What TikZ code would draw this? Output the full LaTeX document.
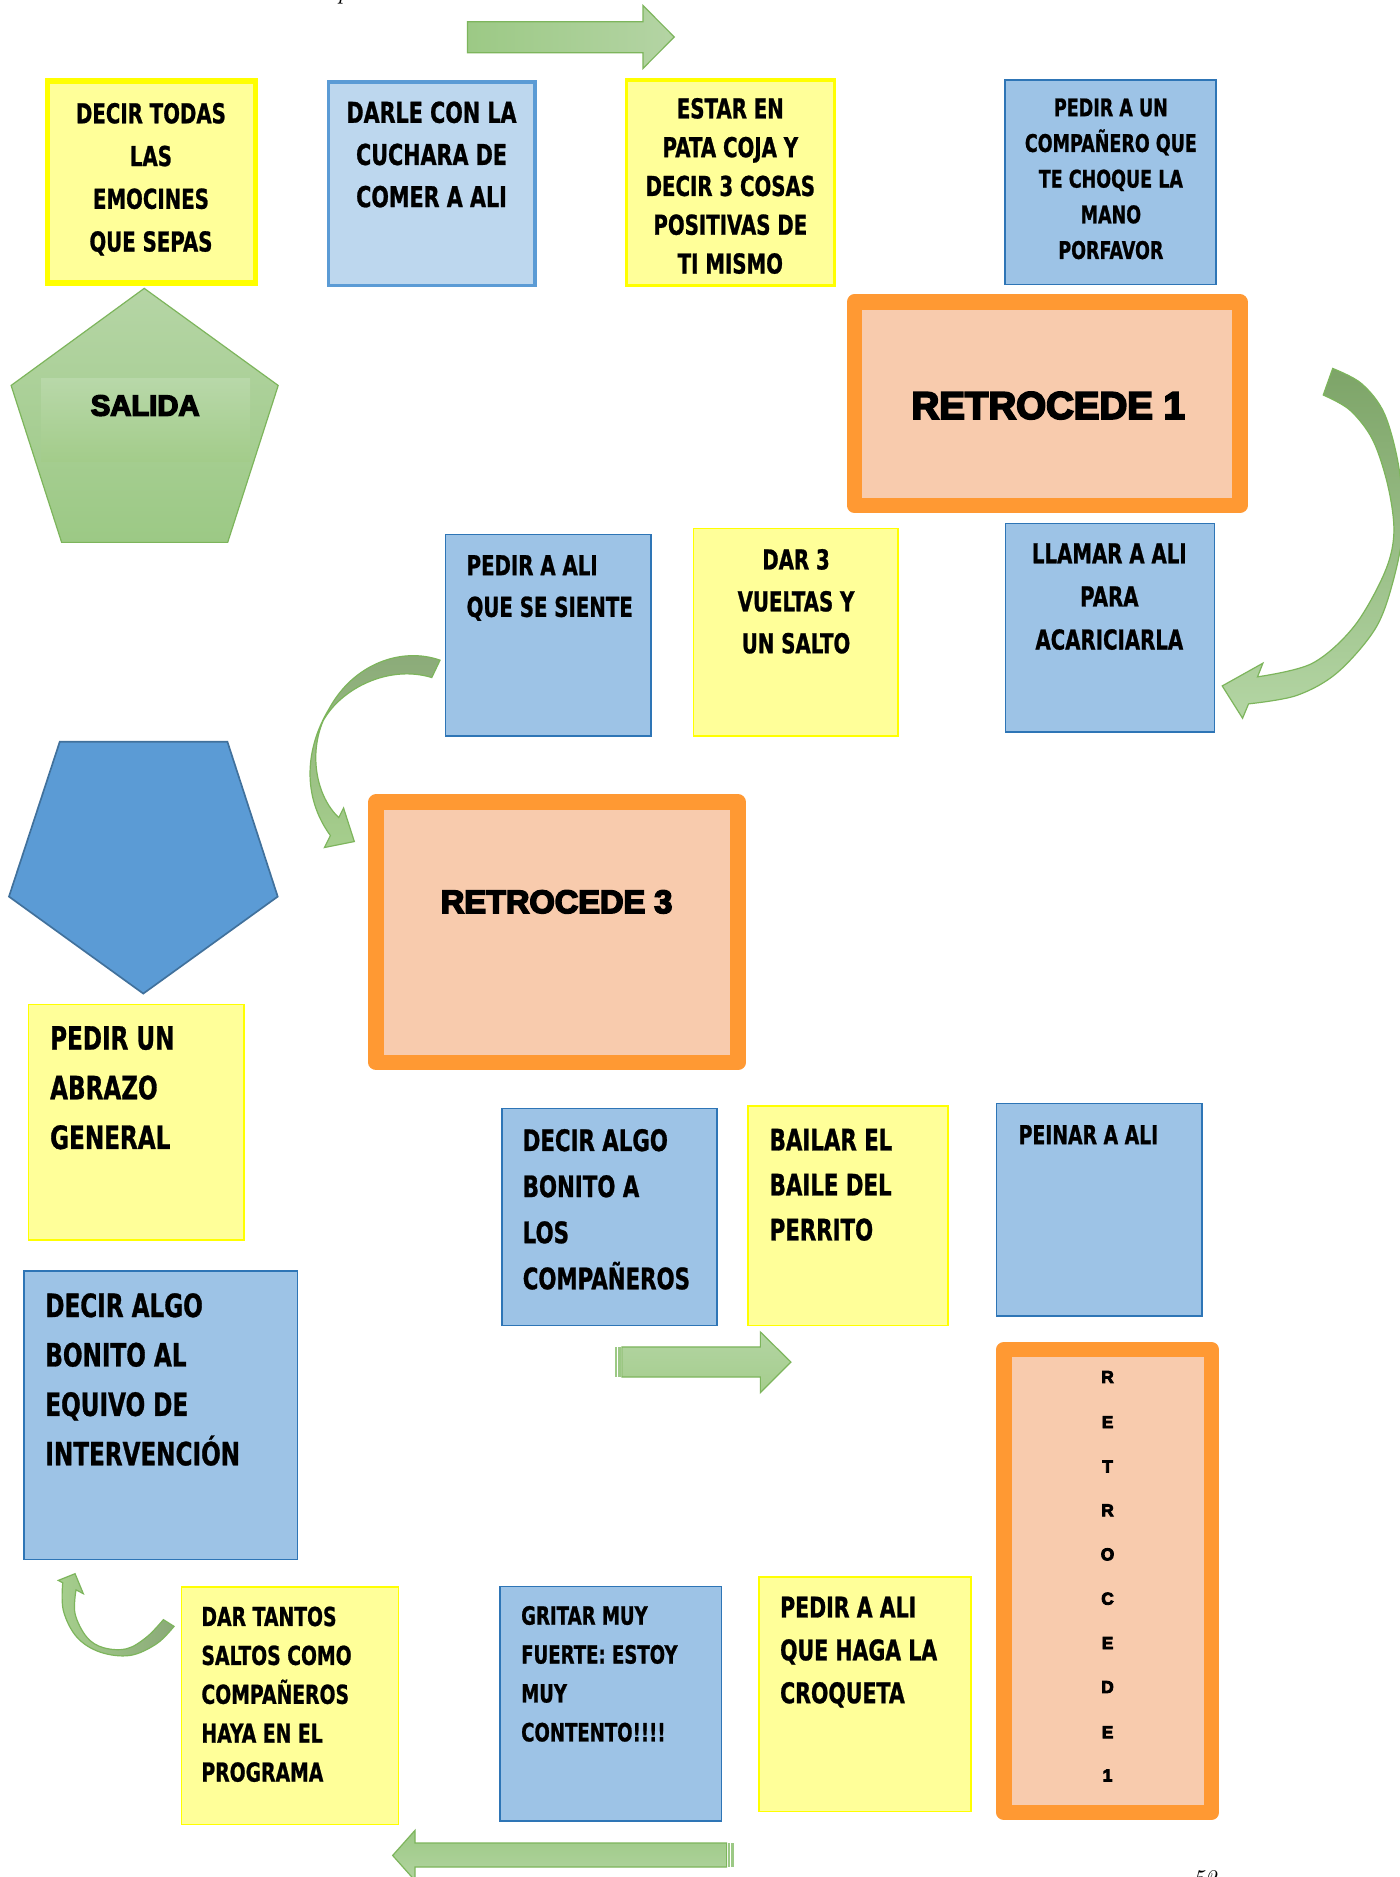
\documentclass[tikz,border=0pt]{standalone}
\usepackage{fontspec}
\newfontfamily\comic[FakeStretch=0.72, BoldFeatures={FakeBold=0.9}]{DejaVu Sans}
\newfontfamily\heavy[BoldFeatures={FakeBold=5}]{Liberation Sans}
\newcommand\cfont[1]{\comic\bfseries\fontsize{#1}{#1}\selectfont}
\newcommand\hfont[1]{\heavy\bfseries\fontsize{#1}{#1}\selectfont}
\newcommand\cenlines[2]{\vtop{\baselineskip=#1\relax\lineskiplimit=-100pt\lineskip=0pt\halign{\hfil##\hfil\cr#2\crcr}}}
\newcommand\leftlines[2]{\vtop{\baselineskip=#1\relax\lineskiplimit=-100pt\lineskip=0pt\halign{##\hfil\cr#2\crcr}}}
\definecolor{yfill}{HTML}{FFFF99}
\definecolor{ydraw}{HTML}{FFFF00}
\definecolor{bfill}{HTML}{9DC3E6}
\definecolor{bdraw}{HTML}{2E75B6}
\definecolor{bfillL}{HTML}{BDD7EE}
\definecolor{bdrawL}{HTML}{5B9BD5}
\definecolor{ofill}{HTML}{F8CBAD}
\definecolor{odraw}{HTML}{FF9933}
\definecolor{pblue}{HTML}{5B9BD5}
\definecolor{pblueE}{HTML}{41719C}
\definecolor{gedge}{HTML}{7DB55C}
\definecolor{gA}{HTML}{9CC985}
\definecolor{gB}{HTML}{B4D4A4}
\definecolor{gTop}{HTML}{B5D5A5}
\definecolor{gRectT}{HTML}{B8D8A9}
\definecolor{gRectB}{HTML}{A3CC8A}
\definecolor{gDark}{HTML}{7DA468}
\definecolor{gGray}{HTML}{8AA978}
\definecolor{gLight}{HTML}{A6CF8D}
\definecolor{gPale}{HTML}{B4D6A4}
\definecolor{gMidT}{HTML}{B3D5A3}
\definecolor{gMidB}{HTML}{A5CD8D}
\definecolor{gBotB}{HTML}{B2D4A0}
\begin{document}
\begin{tikzpicture}[x=0.5pt,y=-0.5pt,
  ybox/.style={fill=yfill, draw=ydraw, line width=0.6pt},
  bbox/.style={fill=bfill, draw=bdraw, line width=0.6pt},
  obox/.style={fill=ofill, draw=odraw, line width=6.5pt, line join=round},
  txt/.style={inner sep=0pt, text=black},
  garrow/.style={draw=gedge, line width=0.5pt}]
\useasboundingbox (0,0) rectangle (1169,1568);
\fill[white] (0,0) rectangle (1169,1568);

% cropped page texts (cut by the page edge in the reference too)
\node[txt, anchor=south, font=\fontsize{10}{10}\selectfont\itshape] (ptop) at (287,3.5) {p};
\node[txt, anchor=north, font=\fontsize{10}{10}\selectfont\itshape] (pg) at (1006,1562) {52};

% top arrow
\shadedraw[garrow, left color=gA, right color=gB]
  (390.6,18.1) -- (537.2,18.1) -- (537.2,4.7) -- (563.3,30.9) -- (537.2,57.1) -- (537.2,44) -- (390.6,44) -- cycle;

% row 1 boxes
\draw[fill=yfill, draw=ydraw, line width=2.25pt] (39.9,67.7) rectangle (213.3,236.5);
\node[txt, anchor=base] (tA) at (126.1,103) {\cfont{11.45}\cenlines{17.85pt}{DECIR TODAS\cr LAS\cr EMOCINES\cr QUE SEPAS}};

\draw[fill=bfillL, draw=bdrawL, line width=1.5pt] (274.5,68.3) rectangle (446.9,238.5);
\node[txt, anchor=base] (tB) at (360.5,102.6) {\cfont{12}\cenlines{17.6pt}{DARLE CON LA\cr CUCHARA DE\cr COMER A ALI}};

\draw[fill=yfill, draw=ydraw, line width=1.3pt] (523.5,66.8) rectangle (697.4,238.7);
\node[txt, anchor=base] (tC) at (610.1,98.9) {\cfont{11.45}\cenlines{16.2pt}{ESTAR EN\cr PATA COJA Y\cr DECIR 3 COSAS\cr POSITIVAS DE\cr TI MISMO}};

\draw[bbox] (839.7,66.8) rectangle (1015.7,237.6);
\node[txt, anchor=base] (tD) at (928,97.1) {\cfont{10.15}\cenlines{14.9pt}{PEDIR A UN\cr COMPAÑERO QUE\cr TE CHOQUE LA\cr MANO\cr PORFAVOR}};

% green pentagon SALIDA
\shadedraw[garrow, top color=gTop, bottom color=gA]
  (120.5,240.9) -- (232.4,322) -- (190.2,453.1) -- (51.5,453.1) -- (9.3,322) -- cycle;
\shade[top color=gRectT, bottom color=gRectB]
  (34.3,315.9) rectangle (209,385.8);
\node[txt, font=\hfont{12.2}] (sal) at (121.3,338.8) {SALIDA};

% RETROCEDE 1
\draw[obox] (713.8,252.4) rectangle (1035.8,422.2);
\node[txt, font=\hfont{16.06}] (r1) at (875.7,338.8) {RETROCEDE 1};

% big right curved arrow
\shadedraw[garrow, top color=gDark, bottom color=gPale]
  (1113.3,307.8) -- plot[smooth, tension=0.55] coordinates {(1113.3,307.8) (1137.2,320.3) (1156.4,345.4) (1168.5,390) (1172,440) (1164,484.6) (1149,525) (1117,562) (1083.1,581) (1043,588)}
  -- (1038,600) -- (1021,573) -- (1055,554) -- (1050.5,565.4)
  -- plot[smooth, tension=0.55] coordinates {(1050.5,565.4) (1095.9,554.3) (1130.9,523.6) (1156.4,479) (1164.4,445.6) (1159.6,406.6) (1146.8,367.6) (1127.7,342.6) (1105.4,330)}
  -- cycle;

% row 2 boxes
\draw[bbox] (372.1,446.5) rectangle (543.7,615);
\node[txt, anchor=base west] (tE) at (389.4,480.5) {\cfont{11.45}\leftlines{17.4pt}{PEDIR A ALI\cr QUE SE SIENTE}};

\draw[ybox] (579.3,441.5) rectangle (750,615);
\node[txt, anchor=base] (tF) at (665,475.7) {\cfont{11.45}\cenlines{17.5pt}{DAR 3\cr VUELTAS Y\cr UN SALTO}};

\draw[bbox] (839.8,437.3) rectangle (1014.4,611.4);
\node[txt, anchor=base] (tG) at (926.7,470.6) {\cfont{11.45}\cenlines{18pt}{LLAMAR A ALI\cr PARA\cr ACARICIARLA}};

% middle-left curved arrow
\shadedraw[garrow, top color=gGray, bottom color=gLight]
  (367.6,551.5) .. controls (335,540) and (295,555) .. (275,592)
  .. controls (255,625) and (252,665) .. (276,698) -- (271,708) -- (296,703) -- (287,675) -- (283,683)
  .. controls (264,665) and (258,630) .. (270,602)
  .. controls (285,575) and (325,555) .. (360.7,566) -- cycle;

% blue pentagon
\draw[fill=pblue, draw=pblueE, line width=0.7pt]
  (49.9,619.7) -- (190,619.7) -- (232,749) -- (119.7,830) -- (7.5,749) -- cycle;

% RETROCEDE 3
\draw[obox] (314.3,670.1) rectangle (616.6,887.5);
\node[txt, font=\hfont{13.6}] (r3) at (465,753.4) {RETROCEDE 3};

% left column and middle row
\draw[ybox] (23.7,838.9) rectangle (203.7,1036);
\node[txt, anchor=base west] (tH) at (41.5,876.8) {\cfont{13.4}\leftlines{20.75pt}{PEDIR UN\cr ABRAZO\cr GENERAL}};

\draw[bbox] (419.2,926.1) rectangle (598.9,1107.1);
\node[txt, anchor=base west] (tI) at (436.3,961.5) {\cfont{12.35}\leftlines{19.25pt}{DECIR ALGO\cr BONITO A\cr LOS\cr COMPAÑEROS}};

\draw[ybox] (624.9,923.9) rectangle (792,1107.1);
\node[txt, anchor=base west] (tJ) at (642.6,961) {\cfont{12.35}\leftlines{18.8pt}{BAILAR EL\cr BAILE DEL\cr PERRITO}};

\draw[bbox] (832.6,921.9) rectangle (1004,1099.3);
\node[txt, anchor=base west] (tK) at (850.6,955.8) {\cfont{10.9}PEINAR A ALI};

% middle striped right arrow
\shadedraw[garrow, top color=gMidT, bottom color=gMidB]
  (519.5,1125.2) -- (635.2,1125.2) -- (635.2,1112.7) -- (660.7,1137.8) -- (635.2,1163.4) -- (635.2,1150.3) -- (519.5,1150.3) -- cycle;
\fill[gA] (513.7,1125.2) rectangle (515.2,1150.3);
\fill[gA] (516.4,1125.2) rectangle (518.4,1150.3);

\draw[bbox] (20,1061.7) rectangle (248.5,1302.7);
\node[txt, anchor=base west] (tL) at (37.5,1100.2) {\cfont{13.4}\leftlines{20.65pt}{DECIR ALGO\cr BONITO AL\cr EQUIVO DE\cr INTERVENCIÓN}};

% vertical RETROCEDE 1
\draw[obox] (838.6,1127.5) rectangle (1012,1514);
\foreach \lt/\yy [count=\i] in {R/1150.3, E/1188, T/1225, R/1261.7, O/1298.5, C/1335.5, E/1372.6, D/1409.3, E/1447, 1/1483.1}
  \node[txt, font=\hfont{7.2}] (v\i) at (925.2,\yy) {\lt};

% bottom row
\draw[ybox] (151.5,1325.7) rectangle (332.7,1524.1);
\node[txt, anchor=base west] (tM) at (167.9,1358.3) {\cfont{10.9}\leftlines{16.25pt}{DAR TANTOS\cr SALTOS COMO\cr COMPAÑEROS\cr HAYA EN EL\cr PROGRAMA}};

\draw[bbox] (417.8,1325.2) rectangle (602.8,1521.3);
\node[txt, anchor=base west] (tN) at (435,1357.2) {\cfont{10.5}\leftlines{16.25pt}{GRITAR MUY\cr FUERTE: ESTOY\cr MUY\cr CONTENTO!!!!}};

\draw[ybox] (634.2,1317.4) rectangle (811,1513.2);
\node[txt, anchor=base west] (tO) at (651.3,1351.2) {\cfont{11.9}\leftlines{17.9pt}{PEDIR A ALI\cr QUE HAGA LA\cr CROQUETA}};

% bottom-left curved arrow
\shadedraw[garrow, left color=gLight, right color=gGray]
  (52.4,1322.2) -- plot[smooth, tension=0.6] coordinates {(52.4,1322.2) (52.9,1345.3) (64.1,1367.5) (83.6,1380.1) (108.6,1382.9) (130.9,1373.1) (145.4,1358.6)}
  -- (136.5,1353)
  -- plot[smooth, tension=0.6] coordinates {(136.5,1353) (122.6,1367.5) (105.8,1377.3) (86.3,1376.4) (72.4,1367.5) (62.7,1348) (63.5,1328.1)}
  -- (69.6,1331.3) -- (62.7,1314.6) -- (48.7,1320.2) -- cycle;

% bottom striped left arrow
\shadedraw[garrow, top color=gA, bottom color=gBotB]
  (607,1539.6) -- (346.7,1539.6) -- (346.7,1529) -- (328,1550) -- (346.7,1571) -- (346.7,1559.7) -- (607,1559.7) -- cycle;
\fill[gA] (608,1539.6) rectangle (609.6,1559.7);
\fill[gA] (610.6,1539.6) rectangle (613,1559.7);
\end{tikzpicture}
\end{document}
